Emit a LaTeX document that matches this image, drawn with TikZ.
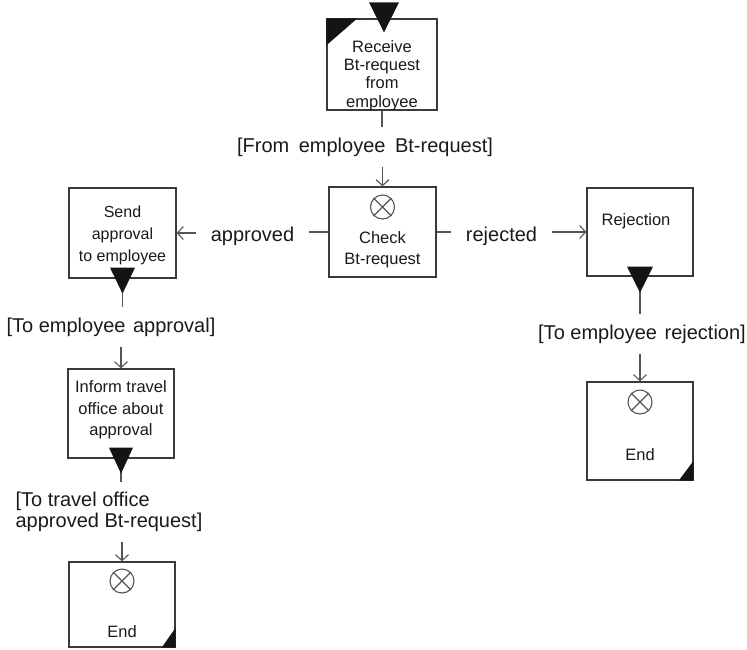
\documentclass[tikz,border=0pt]{standalone}
\usepackage{fontspec}
\setmainfont{Liberation Sans}
\usetikzlibrary{calc,arrows.meta}
\definecolor{ink}{HTML}{1A1A1A}
\definecolor{boxline}{HTML}{3A3A3A}
\definecolor{wire}{HTML}{555555}
\newcommand\crossnode[2]{%
  \node[xc] (#1) at #2 {};
  \draw[xl] (#1.45) -- (#1.225) (#1.135) -- (#1.315);}
\newcommand\labfont{\fontsize{20}{21}\selectfont}
\newcommand\labfontb{\fontsize{20}{20.5}\selectfont}
\begin{document}
\begin{tikzpicture}[x=1pt,y=-1pt,
  box/.style={draw=boxline, line width=1.3pt, inner sep=0pt, fill=white},
  txt/.style={font=\fontsize{16.5}{21}\selectfont, align=center, text=ink, inner sep=0pt},
  lab/.style={font=\labfont, text=ink, inner xsep=15pt, inner ysep=10pt},
  conn/.style={draw=wire, line width=1.1pt},
  arr/.style={conn, -{Straight Barb[length=6pt,width=13pt,line width=1.1pt]}},
  tri/.style={fill=black!92, draw=none},
  xc/.style={circle, draw=wire, line width=1.1pt, minimum size=24pt, inner sep=0pt},
  xl/.style={draw=wire, line width=1.1pt},
]
\useasboundingbox (0,0) rectangle (747,649);

% boxes
\node[box, minimum width=110pt, minimum height=91pt] (recv) at (382,64.5) {};
\node[box, minimum width=107pt, minimum height=90pt] (check) at (382.5,232) {};
\node[box, minimum width=107pt, minimum height=90pt] (send) at (122.5,233) {};
\node[box, minimum width=106pt, minimum height=88pt] (rej) at (640,232) {};
\node[box, minimum width=106pt, minimum height=98pt] (endR) at (640,431) {};
\node[box, minimum width=106pt, minimum height=89pt] (inform) at (121,413.5) {};
\node[box, minimum width=106pt, minimum height=85pt] (endL) at (122,604.5) {};

% box texts
\node[txt, font=\fontsize{16.5}{18.3}\selectfont] (recvT) at (382,75.5) {Receive\\Bt-request\\from\\employee};
\node[txt] (checkT) at (382.5,250) {Check\\Bt-request};
\node[txt, font=\fontsize{16}{22}\selectfont] (sendT) at (122.5,235) {Send\\approval\\to employee};
\node[txt] (rejT) at (636,221) {Rejection};
\node[txt, font=\fontsize{16.5}{21.5}\selectfont] (informT) at (121,410) {Inform travel\\office about\\approval};
\node[txt] (endRT) at (640,455) {End};
\node[txt] (endLT) at (122,632) {End};

% crossed circles
\crossnode{checkX}{(382.5,207)}
\crossnode{endRX}{(640,402)}
\crossnode{endLX}{(122,581)}

% labels
\node[lab] (lFrom) at (365,147) {{[}From \hspace{0.2em}employee \hspace{0.2em}Bt-request{]}};
\node[lab] (lApproved) at (252.5,236) {approved};
\node[lab] (lRejected) at (501.5,236) {rejected};
\node[lab] (lToApp) at (111,327) {{[}To employee \hspace{0.1em}approval{]}};
\node[lab] (lToRej) at (642,334) {{[}To employee \hspace{0.1em}rejection{]}};
\node[lab, align=left, font=\labfontb] (lTravel) at (109,512) {{[}To travel office\\approved Bt-request{]}};

% connectors
\draw[conn] (recv.south) -- (recv.south |- lFrom.north);
\draw[arr] (check.north |- lFrom.south) -- (check.north);

\draw[conn] (check.west) -- (check.west -| lApproved.east);
\draw[arr] (send.east -| lApproved.west) -- (send.east);

\draw[conn] (check.east) -- (check.east -| lRejected.west);
\draw[arr] (rej.west -| lRejected.east) -- (rej.west);

\draw[conn] (send.south) -- (send.south |- lToApp.north);
\draw[arr] (inform.north |- lToApp.south) -- (inform.north);

\draw[conn] (rej.south) -- (rej.south |- lToRej.north);
\draw[arr] (endR.north |- lToRej.south) -- (endR.north);

\draw[conn] (inform.south) -- (inform.south |- lTravel.north);
\draw[arr] (endL.north |- lTravel.south) -- (endL.north);

% black triangles (start / end markers)
\fill[tri] ($(recv.north)+(-13,-16)$) -- ($(recv.north)+(17,-16)$) -- ($(recv.north)+(2,14)$) -- cycle;
\fill[tri] (recv.north west) -- ++(31,0) -- ++(-31,27) -- cycle;
\fill[tri] ($(send.south)+(-12.5,-11)$) -- ($(send.south)+(12.5,-11)$) -- ($(send.south)+(0,15)$) -- cycle;
\fill[tri] ($(rej.south)+(-13,-10)$) -- ($(rej.south)+(13,-10)$) -- ($(rej.south)+(0,16)$) -- cycle;
\fill[tri] ($(inform.south)+(-12,-11)$) -- ($(inform.south)+(12,-11)$) -- ($(inform.south)+(0,15)$) -- cycle;
\fill[tri] (endR.south east) -- ++(-15,0) -- ++(15,-20) -- cycle;
\fill[tri] (endL.south east) -- ++(-14,0) -- ++(14,-20) -- cycle;
\end{tikzpicture}
\end{document}
